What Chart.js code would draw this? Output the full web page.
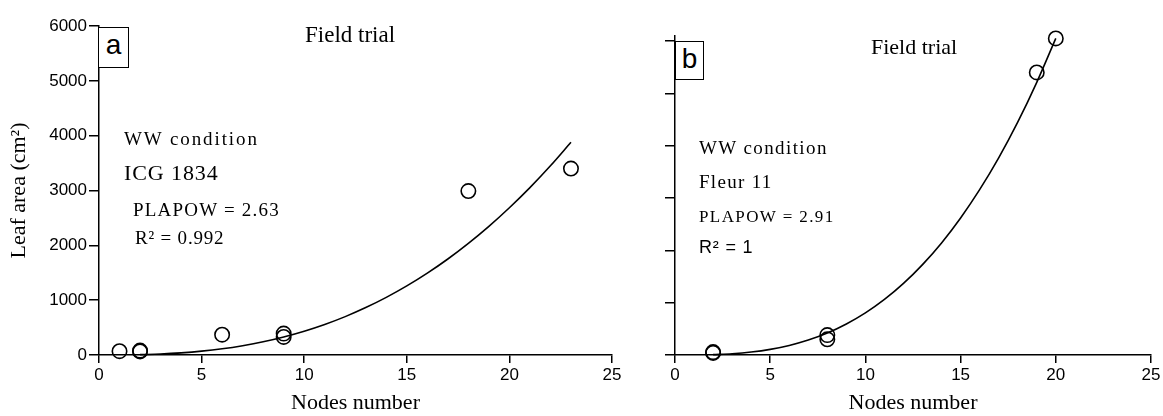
<!DOCTYPE html>
<html>
<head>
<meta charset="utf-8">
<script src="https://cdn.jsdelivr.net/npm/chart.js@4.4.0/dist/chart.umd.min.js"></script>
<style>
  html, body { margin: 0; padding: 0; background: #fff; }
  #wrap { position: relative; width: 1163px; height: 416px; overflow: hidden; }
  canvas { position: absolute; top: 0; }
  #chart-a { left: 0; }
  #chart-b { left: 640px; }
  .note {
    position: absolute; white-space: nowrap; color: #000; line-height: 1;
    font-family: "Liberation Serif", "Times New Roman", serif;
    transform: translateY(-50%);
  }
  .sans { font-family: "Liberation Sans", Arial, sans-serif; }
  .tag {
    position: absolute; box-sizing: border-box; border: 1.5px solid #000; background: #fff;
    font-family: "Liberation Sans", Arial, sans-serif; font-size: 28px; line-height: 34px;
    text-align: center; color: #000;
  }
</style>
</head>
<body>
<div id="wrap">
  <canvas id="chart-a" width="640" height="416"></canvas>
  <canvas id="chart-b" width="523" height="416"></canvas>

  <div class="tag" style="left:98px;top:27px;width:31px;height:41px;">a</div>
  <div class="note" style="left:305px;top:34px;font-size:23px;">Field trial</div>
  <div class="note" style="left:124px;top:138px;font-size:19px;letter-spacing:1.9px;">WW condition</div>
  <div class="note" style="left:124px;top:173px;font-size:22px;letter-spacing:0.9px;">ICG 1834</div>
  <div class="note" style="left:133px;top:209px;font-size:19px;letter-spacing:1.2px;">PLAPOW = 2.63</div>
  <div class="note" style="left:135px;top:237px;font-size:19px;letter-spacing:0.8px;">R² = 0.992</div>

  <div class="tag" style="left:675px;top:41px;width:29px;height:39px;">b</div>
  <div class="note" style="left:871px;top:47px;font-size:22px;">Field trial</div>
  <div class="note" style="left:699px;top:147px;font-size:19px;letter-spacing:1.4px;">WW condition</div>
  <div class="note" style="left:699px;top:181px;font-size:19px;letter-spacing:1.3px;">Fleur 11</div>
  <div class="note" style="left:699px;top:216px;font-size:17px;letter-spacing:1.4px;">PLAPOW = 2.91</div>
  <div class="note sans" style="left:699px;top:247px;font-size:18px;letter-spacing:0.8px;">R² = 1</div>
</div>

<script>
"use strict";

// ── Data ───────────────────────────────────────────────────────────────
const xTicks = [0, 5, 10, 15, 20, 25];
const yTicks = [0, 1000, 2000, 3000, 4000, 5000, 6000];

// panel a: ICG 1834
const nodesA = [1, 2, 2, 6, 9, 9, 18, 23];
const leafA  = [70, 80, 65, 370, 390, 330, 2990, 3400];
const fitNodesA = [2, 3, 4, 5, 6, 7, 8, 9, 10, 11, 12, 13, 14, 15, 16, 17, 18, 19, 20, 21, 22, 23];
const fitLeafA  = [6, 18, 39, 70, 113, 170, 241, 329, 434, 557, 700, 865, 1051, 1260, 1493, 1751, 2036, 2347, 2686, 3053, 3451, 3880];

// panel b: Fleur 11
const nodesB = [2, 2, 8, 8, 19, 20];
const leafB  = [55, 40, 380, 300, 5400, 6050];
const fitNodesB = [2, 3, 4, 5, 6, 7, 8, 9, 10, 11, 12, 13, 14, 15, 16, 17, 18, 19, 20];
const fitLeafB  = [7, 24, 56, 107, 182, 285, 420, 593, 805, 1062, 1368, 1727, 2142, 2619, 3159, 3767, 4449, 5211, 6051];

// ── Helpers ────────────────────────────────────────────────────────────
const SANS  = "'Liberation Sans', Arial, sans-serif";
const SERIF = "'Liberation Serif', 'Times New Roman', serif";
const toPts = (xs, ys) => xs.map((x, i) => ({ x, y: ys[i] }));

function xAxis(boxHeight) {
  return {
    type: "linear", position: "bottom", min: 0, max: 25,
    afterBuildTicks: s => { s.ticks = xTicks.map(v => ({ value: v })); },
    afterFit: s => { s.height = boxHeight; s.paddingLeft = 0; s.paddingRight = 0; },
    grid: { drawOnChartArea: false, drawTicks: true, tickLength: 8, color: "#000", lineWidth: 1.5 },
    border: { display: true, color: "#000", width: 1.5 },
    ticks: { color: "#000", font: { family: SANS, size: 17 }, padding: 2, maxRotation: 0 },
    title: { display: true, text: "Nodes number", color: "#000",
             font: { family: SERIF, size: 22 }, padding: { top: 0, bottom: 0 } },
  };
}

function yAxis(boxWidth, yMax, showLabels, title) {
  return {
    type: "linear", position: "left", min: 0, max: yMax,
    afterBuildTicks: s => { s.ticks = yTicks.map(v => ({ value: v })); },
    afterFit: s => { s.width = boxWidth; s.paddingTop = 0; s.paddingBottom = 0; },
    grid: { drawOnChartArea: false, drawTicks: true, tickLength: 10, color: "#000", lineWidth: 1.5 },
    border: { display: true, color: "#000", width: 1.5 },
    ticks: { color: "#000", font: { family: SANS, size: 17 }, padding: 2,
             callback: v => showLabels ? String(v) : "" },
    title: { display: !!title, text: title || "", color: "#000",
             font: { family: SERIF, size: 22 }, padding: { top: 6, bottom: 0 } },
  };
}

function buildPanel(id, pts, fit, layout, yCfg, xHeight) {
  return new Chart(document.getElementById(id), {
    type: "scatter",
    data: {
      datasets: [
        {
          label: "fit", data: fit, showLine: true, borderColor: "#000", borderWidth: 1.6,
          pointRadius: 0, cubicInterpolationMode: "monotone", fill: false, order: 2, clip: false,
        },
        {
          label: "obs", data: pts, pointRadius: 7.2, pointHoverRadius: 7.2,
          pointBorderWidth: 1.6, pointBorderColor: "#000", pointBackgroundColor: "transparent",
          showLine: false, order: 1, clip: false,
        },
      ],
    },
    options: {
      responsive: false, animation: false, devicePixelRatio: 1,
      layout: { padding: layout },
      plugins: { legend: { display: false }, tooltip: { enabled: false } },
      scales: { x: xAxis(xHeight), y: yCfg },
    },
  });
}

buildPanel("chart-a", toPts(nodesA, leafA), toPts(fitNodesA, fitLeafA),
  { top: 26, right: 28, left: 0, bottom: 0 },
  yAxis(99, 6000, true, "Leaf area (cm²)"), 61);

buildPanel("chart-b", toPts(nodesB, leafB), toPts(fitNodesB, fitLeafB),
  { top: 36, right: 12, left: 0, bottom: 0 },
  yAxis(35, 6096, false, null), 61);
</script>
</body>
</html>
